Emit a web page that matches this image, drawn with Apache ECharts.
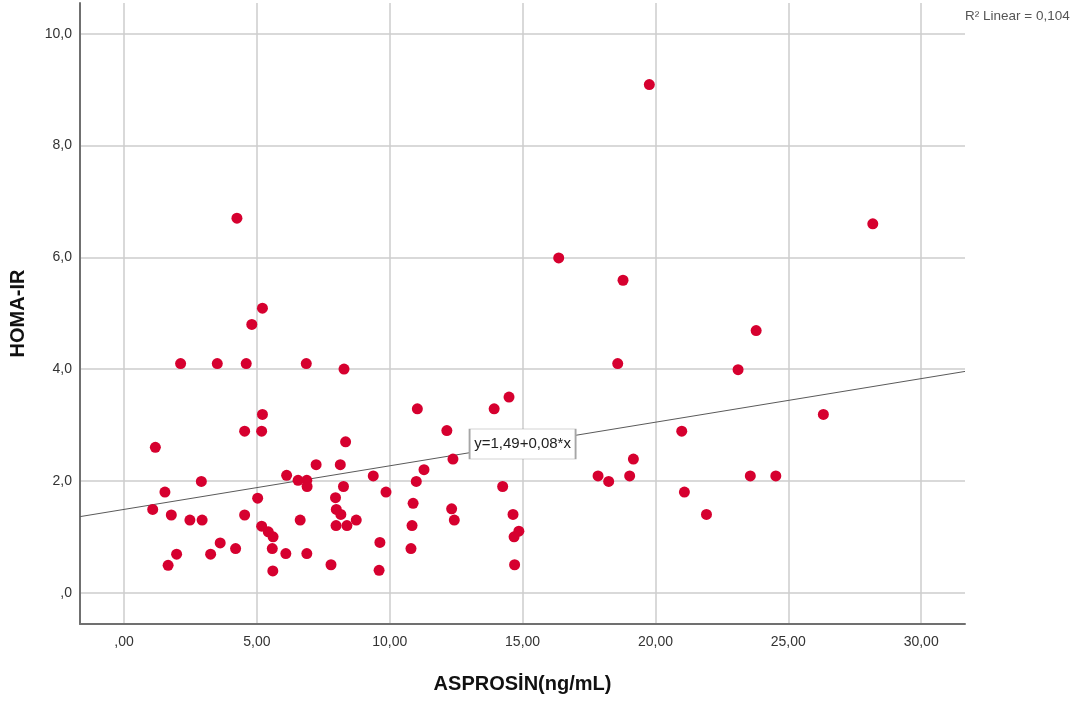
<!DOCTYPE html>
<html>
<head>
<meta charset="utf-8">
<script src="https://cdn.jsdelivr.net/npm/echarts@6/dist/echarts.min.js"></script>
<style>
html,body{margin:0;padding:0;background:#fff;}
#chart{width:1088px;height:702px;}
</style>
</head>
<body>
<div id="chart"></div>
<script>
// ASPROSİN (ng/mL)
var asprosin = [19.77, 4.25, 28.18, 16.36, 18.78, 5.21, 4.81, 23.79, 2.13, 3.51,
  4.60, 6.86, 8.28, 18.58, 23.11, 11.04, 13.93, 14.49, 26.32, 5.21,
  1.18, 4.54, 5.18, 8.34, 12.15, 12.38, 20.99, 19.17, 1.54, 2.91,
  6.12, 7.23, 8.14, 9.38, 6.55, 6.88, 6.89, 8.26, 11.29, 11.00,
  14.25, 17.84, 18.24, 19.03, 23.57, 24.53, 21.09, 21.92, 1.08, 1.78,
  2.48, 2.94, 4.54, 5.03, 5.18, 5.43, 5.61, 6.63, 7.96, 7.99,
  8.16, 7.98, 8.39, 8.74, 9.86, 10.88, 10.84, 12.33, 12.43, 14.64,
  14.86, 14.68, 3.62, 4.20, 1.98, 3.26, 1.66, 5.58, 6.09, 6.88,
  5.60, 7.79, 9.63, 9.60, 10.80, 14.70];
// HOMA-IR
var homaIR = [9.09, 6.70, 6.60, 5.99, 5.59, 5.09, 4.80, 4.69, 4.10, 4.10,
  4.10, 4.10, 4.00, 4.10, 3.99, 3.29, 3.29, 3.50, 3.19, 3.19,
  2.60, 2.89, 2.89, 2.70, 2.90, 2.39, 2.89, 2.39, 1.80, 1.99,
  2.10, 2.29, 2.29, 2.09, 2.01, 2.01, 1.90, 1.90, 2.20, 1.99,
  1.90, 2.09, 1.99, 2.09, 2.09, 2.09, 1.80, 1.40, 1.49, 1.39,
  1.30, 1.30, 1.39, 1.69, 1.19, 1.09, 1.00, 1.30, 1.70, 1.49,
  1.40, 1.20, 1.20, 1.30, 1.80, 1.60, 1.20, 1.50, 1.30, 1.40,
  1.10, 1.00, 0.89, 0.79, 0.69, 0.69, 0.49, 0.79, 0.70, 0.70,
  0.39, 0.50, 0.90, 0.40, 0.79, 0.50];

// Axis ranges and ticks
var xRange = [-1.656, 31.65];
var yRange = [-0.56, 10.55];
var xStep = 5;
var yStep = 2;

// Linear fit
var fitIntercept = 1.49;
var fitSlope = 0.078;
var fitLabel = 'y=1,49+0,08*x';
var fitLabelX = 15;
var r2Text = 'R\u00B2 Linear = 0,104';

var xTitle = 'ASPROSİN(ng/mL)';
var yTitle = 'HOMA-IR';

function fmt(v, step, dec) {
  var k = v / step;
  if (Math.abs(k - Math.round(k)) > 1e-6) return '';
  if (Math.abs(v) < 1e-9) return ',' + '0'.repeat(dec);
  return v.toFixed(dec).replace('.', ',');
}

var points = asprosin.map(function (x, i) { return [x, homaIR[i]]; });
var fitLine = [
  [xRange[0], fitIntercept + fitSlope * xRange[0]],
  [xRange[1], fitIntercept + fitSlope * xRange[1]]
];
var fitMid = [fitLabelX, fitIntercept + fitSlope * fitLabelX];

var FONT = '"Liberation Sans", Arial, sans-serif';
var chart = echarts.init(document.getElementById('chart'), null, {renderer: 'canvas'});
chart.setOption({
  animation: false,
  backgroundColor: '#ffffff',
  textStyle: {fontFamily: FONT},
  grid: {left: 80, right: 123, top: 3, bottom: 78, containLabel: false},
  xAxis: {
    type: 'value',
    min: xRange[0], max: xRange[1],
    minInterval: xStep, maxInterval: xStep,
    name: xTitle,
    nameLocation: 'middle',
    nameGap: 50,
    nameTextStyle: {fontSize: 20, fontWeight: 'bold', color: '#111', fontFamily: FONT},
    axisLine: {show: true, onZero: false, lineStyle: {color: '#707070', width: 2}},
    axisTick: {show: false},
    axisLabel: {
      interval: 0, fontSize: 14, color: '#333', margin: 11, fontFamily: FONT,
      showMinLabel: false, showMaxLabel: false,
      formatter: function (v) { return fmt(v, xStep, 2); }
    },
    splitLine: {show: true, showMinLine: false, showMaxLine: false,
      lineStyle: {color: '#cdcdcd', width: 1.5}}
  },
  yAxis: {
    type: 'value',
    min: yRange[0], max: yRange[1],
    minInterval: yStep, maxInterval: yStep,
    name: yTitle,
    nameLocation: 'middle',
    nameGap: 52,
    nameRotate: 90,
    nameTextStyle: {fontSize: 20, fontWeight: 'bold', color: '#111', fontFamily: FONT},
    axisLine: {show: true, onZero: false, lineStyle: {color: '#707070', width: 2}},
    axisTick: {show: false},
    axisLabel: {
      interval: 0, fontSize: 14, color: '#333', margin: 8, fontFamily: FONT,
      showMinLabel: false, showMaxLabel: false,
      formatter: function (v) { return fmt(v, yStep, 1); }
    },
    splitLine: {show: true, showMinLine: false, showMaxLine: false,
      lineStyle: {color: '#cdcdcd', width: 1.5}}
  },
  series: [
    {
      type: 'line',
      data: fitLine,
      symbol: 'none',
      lineStyle: {color: '#5a5a5a', width: 1},
      z: 3,
      silent: true,
      markPoint: {
        symbol: 'rect',
        symbolSize: [106, 30],
        itemStyle: {color: '#ffffff', borderColor: '#a6a6a6', borderWidth: 1},
        label: {show: true, position: 'inside', formatter: fitLabel,
          fontSize: 15, color: '#222', fontFamily: FONT},
        data: [{coord: fitMid}],
        z: 6
      }
    },
    {
      type: 'scatter',
      data: points,
      symbol: 'circle',
      symbolSize: 11,
      itemStyle: {color: '#d6002f', opacity: 1},
      z: 4
    }
  ],
  graphic: [{
    type: 'text',
    left: 965, top: 9,
    style: {text: r2Text, fontSize: 13.5, fill: '#555', fontFamily: FONT}
  }]
});
</script>
</body>
</html>
